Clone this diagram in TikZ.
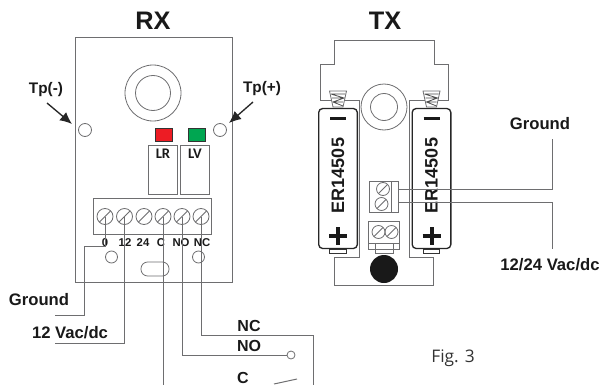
\documentclass[tikz,border=0pt]{standalone}
\usepackage{fontspec}
\setmainfont{Liberation Sans}
\newfontfamily\figfont{Open Sans}
\newfontfamily\ledfont{Carlito}
\usepackage{tikz}
\usetikzlibrary{positioning,arrows.meta}
\definecolor{wirecol}{HTML}{6E6E70}
\definecolor{ledred}{HTML}{ED1C24}
\definecolor{ledgreen}{HTML}{00A651}
\tikzset{
  wire/.style={draw=wirecol,line width=0.75pt},
  board/.style={draw=wirecol,line width=0.75pt,fill=white,rectangle,inner sep=0pt},
  hole/.style={draw=wirecol,line width=0.6pt,circle,inner sep=0pt,minimum size=#1*0.75pt},
  screw/.style={hole=#1,path picture={\draw[wirecol,line width=0.7pt]
    (path picture bounding box.south west)--(path picture bounding box.north east);}},
  led/.style={draw=black!80,line width=1pt,minimum width=12.5pt,minimum height=9.5pt,inner sep=0pt},
  title/.style={font=\bfseries\fontsize{19}{19}\selectfont,text=black!90,inner sep=0pt},
  lab/.style={font=\bfseries\fontsize{12.5}{13}\selectfont,text=black!90,inner sep=0pt},
  tiny/.style={font=\bfseries\fontsize{8.5}{9}\selectfont,text=black!90,inner sep=0pt},
  ledlab/.style={font=\ledfont\bfseries\fontsize{11}{11}\selectfont,text=black!90,inner sep=0pt},
  cell/.style={draw=black!85,line width=1pt,fill=white,rounded corners=3pt,rectangle,inner sep=0pt,minimum width=29pt,minimum height=105pt},
  nubbox/.style={draw=black!80,line width=0.6pt,fill=white,minimum width=12.5pt,minimum height=3pt,inner sep=0pt}
}
\begin{document}
\begin{tikzpicture}[x=0.75pt,y=-0.75pt]
\useasboundingbox (0,0) rectangle (602,385);
% RX
\node[title] (rxtitle) at (153,21) {RX};
\node[board,minimum width=117.75pt,minimum height=183.5pt] (rxboard) at (153.5,160.3) {};
\node[hole=56] (rxlens) at (153,93) {};
\node[hole=35] (rxlensin) at (153,93) {};
\node[hole=13] (tpminus) at (85,130) {};
\node[hole=13] (tpplus) at (220,130) {};
\node[lab,font=\bfseries\fontsize{11.5}{12}\selectfont] (tpmlab) at (46,90) {Tp(-)};
\node[lab,font=\bfseries\fontsize{11.5}{12}\selectfont] (tpplab) at (262,89) {Tp(+)};
\coordinate (tpmfrom) at (47,103);
\coordinate (tpmto) at (72,124);
\coordinate (tppfrom) at (253,102);
\coordinate (tppto) at (229,123);
\draw[black!85,line width=1pt,-{Latex[length=9pt,width=8pt]}] (tpmfrom) -- (tpmto);
\draw[black!85,line width=1pt,-{Latex[length=9pt,width=8pt]}] (tppfrom) -- (tppto);
\node[led,fill=ledred] (ledr) at (164,135) {};
\node[led,fill=ledgreen] (ledg) at (197,135) {};
\node[board,minimum width=21.5pt,minimum height=37pt] (lrbox) at (163.2,169.7) {};
\node[board,minimum width=21.5pt,minimum height=37pt] (lvbox) at (195.2,169.7) {};
\node[ledlab] (lrlab) at (163,154) {LR};
\node[ledlab] (lvlab) at (195,154) {LV};
\node[board,minimum width=88pt,minimum height=27pt] (rxblock) at (152.5,216) {};
\foreach \nam/\px in {s0/105,s12/124.5,s24/144,sc/163,sno/182,snc/201}
  \node[screw=16] (\nam) at (\px,216.5) {};
\node[tiny] (l0) at (105,243) {0};
\node[tiny] (l12) at (125,243) {12};
\node[tiny] (l24) at (143,243) {24};
\node[tiny] (lc) at (161,243) {C};
\node[tiny] (lno) at (181,243) {NO};
\node[tiny] (lnc) at (202,243) {NC};
\node[hole=12] (rxhole1) at (111.5,257) {};
\node[hole=12] (rxhole2) at (198.5,257) {};
\node[draw=wirecol,line width=0.6pt,rounded corners=5pt,minimum width=21pt,minimum height=10.5pt,inner sep=0pt] (rxslot) at (155,269) {};
% RX wires
\coordinate (gndbend) at (84.5,246);
\coordinate (gndend) at (55,315);
\coordinate (vacend) at (55,343);
\coordinate (cend) at (163,385);
\coordinate (ncbend) at (201,335);
\coordinate (ncend) at (313,385);
\coordinate (bladea) at (274,384);
\coordinate (bladeb) at (297,379);
\node[hole=8] (nopin) at (291,355) {};
\draw[wire] (s0.center) |- (gndbend) |- (gndend);
\draw[wire] (s12.center) |- (vacend);
\draw[wire] (sc.center) -- (cend);
\draw[wire] (sno.center) |- (nopin);
\draw[wire] (snc.center) |- (ncbend) -| (ncend);
\draw[wire] (bladea) -- (bladeb);
\node[lab] (gndlab) at (39,300) {Ground};
\node[lab] (vaclab) at (70,333) {12 Vac/dc};
\node[lab,font=\bfseries\fontsize{12}{12}\selectfont] (nclab) at (249,326) {NC};
\node[lab,font=\bfseries\fontsize{12}{12}\selectfont] (nolab) at (249,346) {NO};
\node[lab,font=\bfseries\fontsize{12}{12}\selectfont] (clab) at (243,378) {C};
% TX
\node[title] (txtitle) at (385,21) {TX};
\draw[wire] (359,257) -- (359,100) -- (320.5,100) -- (320.5,65) -- (334.5,65) -- (334.5,41)
  -- (434,41) -- (434,65) -- (448,65) -- (448,100) -- (409.5,100) -- (409.5,257)
  -- (433.5,257) -- (433.5,285) -- (334.5,285) -- (334.5,257) -- cycle;
\node[hole=46,fill=white] (txlens) at (384,107) {};
\node[hole=27] (txlensin) at (384,107) {};
\foreach \nam/\px in {a/338,b/431.5}{
  \draw[wirecol,line width=0.6pt,fill=white] (\px-8.5,91) -- (\px+8.5,91) -- (\px+5,107) -- (\px-5,107) -- cycle;
  \draw[black!70,line width=0.6pt] (\px-7,94) -- (\px+7,94) (\px-6,98) -- (\px+6,98) (\px-5,102) -- (\px+5,102)
    (\px-7,94) -- (\px+6,98) -- (\px-5,102) -- (\px+5,106);
  \node[nubbox] (nub\nam) at (\px,251) {};
  \node[cell] (cell\nam) at (\px,178.5) {};
  \node[tiny,font=\bfseries\fontsize{13.5}{14}\selectfont,rotate=90] (er\nam) at (\px,175.5) {ER14505};
  \draw[black!90,line width=2.5pt] (\px-8,118.5) -- (\px+8,118.5);
  \draw[black!90,line width=3pt] (\px-9,236) -- (\px+9,236) (\px,227) -- (\px,245);
}
\node[board,minimum width=21.75pt,minimum height=23.25pt] (txblock) at (383.5,196.5) {};
\draw[wire,line width=0.6pt] (391,181) -- (391,212);
\node[screw=13] (txs1) at (383,189) {};
\node[screw=13] (txs2) at (381.5,204) {};
\node[board,minimum width=23.25pt,minimum height=21pt] (txconn) at (384,235) {};
\draw[wire,line width=0.6pt] (368.5,243) -- (399.5,243);
\node[board,minimum width=13.5pt,minimum height=7.5pt,fill=none] (txtab) at (384,248) {};
\node[screw=13] (txs3) at (378.5,232) {};
\node[screw=13] (txs4) at (391.5,232) {};
\node[circle,fill=black!90,minimum size=21pt,inner sep=0pt] (txbutton) at (384,269) {};
% TX wires
\coordinate (txg0) at (398,189);
\coordinate (txg1) at (552.5,139);
\coordinate (txv0) at (398,202);
\coordinate (txv1) at (552.5,249);
\draw[wire] (txg0) -| (txg1);
\draw[wire] (txv0) -| (txv1);
\node[lab] (txgnd) at (540,124) {Ground};
\node[lab] (txvac) at (550,265) {12/24 Vac/dc};
\node[font=\figfont\fontsize{13}{13}\selectfont,text=black!80,inner sep=0pt] (figlab) at (453,358) {Fig. 3};
\end{tikzpicture}
\end{document}
